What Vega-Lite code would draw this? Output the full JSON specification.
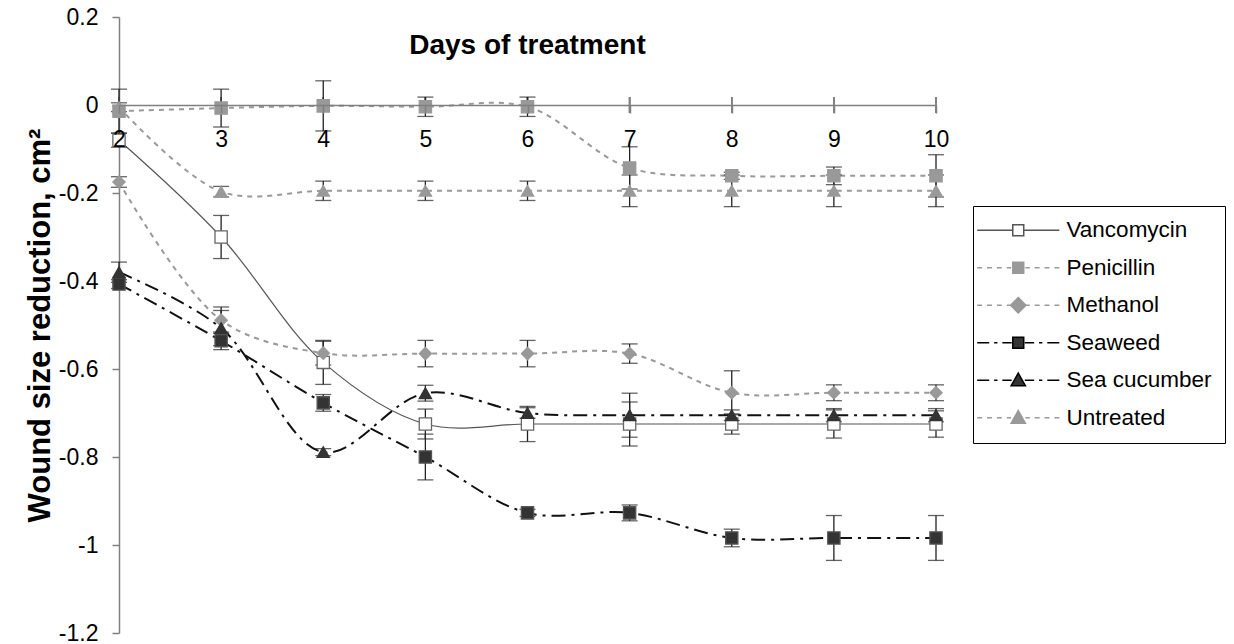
{
  "$schema": "https://vega.github.io/schema/vega-lite/v6.json",
  "width": 817,
  "height": 616,
  "autosize": "none",
  "padding": {"left": 119, "top": 17, "right": 298, "bottom": 11},
  "background": "white",
  "config": {"view": {"stroke": null}, "font": "Liberation Sans", "axis": {"grid": false}},
  "title": {"text": "Days of treatment", "font": "Liberation Sans", "fontSize": 28, "fontWeight": "bold", "color": "black", "frame": "group", "anchor": "middle", "offset": -36, "dy": 40, "baseline": "alphabetic"},
  "data": {"values": [
    {"series": "Vancomycin", "day": 2, "value": -0.08, "err": 0.016},
    {"series": "Vancomycin", "day": 3, "value": -0.30, "err": 0.049},
    {"series": "Vancomycin", "day": 4, "value": -0.585, "err": 0.05},
    {"series": "Vancomycin", "day": 5, "value": -0.725, "err": 0.034},
    {"series": "Vancomycin", "day": 6, "value": -0.725, "err": 0.04},
    {"series": "Vancomycin", "day": 7, "value": -0.725, "err": 0.05},
    {"series": "Vancomycin", "day": 8, "value": -0.725, "err": 0.023},
    {"series": "Vancomycin", "day": 9, "value": -0.725, "err": 0.032},
    {"series": "Vancomycin", "day": 10, "value": -0.725, "err": 0.03},
    {"series": "Penicillin", "day": 2, "value": -0.014, "err": 0.05},
    {"series": "Penicillin", "day": 3, "value": -0.007, "err": 0.043},
    {"series": "Penicillin", "day": 4, "value": -0.002, "err": 0.057},
    {"series": "Penicillin", "day": 5, "value": -0.004, "err": 0.022},
    {"series": "Penicillin", "day": 6, "value": -0.004, "err": 0.022},
    {"series": "Penicillin", "day": 7, "value": -0.143, "err": 0.048},
    {"series": "Penicillin", "day": 8, "value": -0.161, "err": 0.008},
    {"series": "Penicillin", "day": 9, "value": -0.161, "err": 0.02},
    {"series": "Penicillin", "day": 10, "value": -0.161, "err": 0.048},
    {"series": "Methanol", "day": 2, "value": -0.175, "err": 0.012},
    {"series": "Methanol", "day": 3, "value": -0.489, "err": 0.03},
    {"series": "Methanol", "day": 4, "value": -0.564, "err": 0.027},
    {"series": "Methanol", "day": 5, "value": -0.565, "err": 0.03},
    {"series": "Methanol", "day": 6, "value": -0.565, "err": 0.03},
    {"series": "Methanol", "day": 7, "value": -0.565, "err": 0.022},
    {"series": "Methanol", "day": 8, "value": -0.654, "err": 0.05},
    {"series": "Methanol", "day": 9, "value": -0.654, "err": 0.018},
    {"series": "Methanol", "day": 10, "value": -0.654, "err": 0.018},
    {"series": "Seaweed", "day": 2, "value": -0.407, "err": 0.01},
    {"series": "Seaweed", "day": 3, "value": -0.536, "err": 0.02},
    {"series": "Seaweed", "day": 4, "value": -0.677, "err": 0.019},
    {"series": "Seaweed", "day": 5, "value": -0.80, "err": 0.052},
    {"series": "Seaweed", "day": 6, "value": -0.927, "err": 0.008},
    {"series": "Seaweed", "day": 7, "value": -0.927, "err": 0.018},
    {"series": "Seaweed", "day": 8, "value": -0.984, "err": 0.02},
    {"series": "Seaweed", "day": 9, "value": -0.984, "err": 0.051},
    {"series": "Seaweed", "day": 10, "value": -0.984, "err": 0.051},
    {"series": "Sea cucumber", "day": 2, "value": -0.38, "err": 0.023},
    {"series": "Sea cucumber", "day": 3, "value": -0.507, "err": 0.04},
    {"series": "Sea cucumber", "day": 4, "value": -0.789, "err": 0.008},
    {"series": "Sea cucumber", "day": 5, "value": -0.655, "err": 0.018},
    {"series": "Sea cucumber", "day": 6, "value": -0.70, "err": 0.012},
    {"series": "Sea cucumber", "day": 7, "value": -0.705, "err": 0.05},
    {"series": "Sea cucumber", "day": 8, "value": -0.705, "err": 0.012},
    {"series": "Sea cucumber", "day": 9, "value": -0.705, "err": 0.015},
    {"series": "Sea cucumber", "day": 10, "value": -0.705, "err": 0.015},
    {"series": "Untreated", "day": 2, "value": -0.005, "err": 0.01},
    {"series": "Untreated", "day": 3, "value": -0.197, "err": 0.012},
    {"series": "Untreated", "day": 4, "value": -0.195, "err": 0.022},
    {"series": "Untreated", "day": 5, "value": -0.195, "err": 0.022},
    {"series": "Untreated", "day": 6, "value": -0.195, "err": 0.022},
    {"series": "Untreated", "day": 7, "value": -0.195, "err": 0.036},
    {"series": "Untreated", "day": 8, "value": -0.195, "err": 0.036},
    {"series": "Untreated", "day": 9, "value": -0.195, "err": 0.036},
    {"series": "Untreated", "day": 10, "value": -0.195, "err": 0.036}
  ]},
  "encoding": {
    "x": {"field": "day", "type": "quantitative", "scale": {"domain": [2, 10], "nice": false, "zero": false},
      "axis": {"orient": "bottom", "offset": -528, "zindex": 1, "values": [2, 3, 4, 5, 6, 7, 8, 9, 10], "title": null, "domainColor": "#808080", "domainWidth": 1.5, "tickColor": "#808080", "tickWidth": 1.5, "tickSize": 8, "labelFontSize": 23, "labelFont": "Liberation Sans", "labelColor": "black", "labelPadding": 15, "labelFlush": false, "labelOverlap": false}},
    "y": {"field": "value", "type": "quantitative", "scale": {"domain": [-1.2, 0.2], "nice": false, "zero": false},
      "axis": {"values": [-1.2, -1, -0.8, -0.6, -0.4, -0.2, 0, 0.2], "labelExpr": "toString(round(datum.value*10)/10)", "title": "Wound size reduction, cm²", "titleFont": "Liberation Sans", "titleFontSize": 31, "titleFontWeight": "bold", "titleColor": "black", "titlePadding": 2, "domainColor": "#808080", "domainWidth": 1.5, "tickColor": "#808080", "tickWidth": 1.5, "tickSize": 7, "labelFontSize": 23, "labelFont": "Liberation Sans", "labelColor": "black", "labelPadding": 14, "labelFlush": false, "labelOverlap": false}}
  },
  "layer": [
    {"mark": {"type": "tick", "orient": "vertical", "size": 16, "thickness": 1.5, "color": "#808080"},
     "encoding": {"y": {"datum": 0}}},
    {"transform": [{"filter": "datum.series === 'Vancomycin'"}],
     "mark": {"type": "line", "interpolate": "catmull-rom", "color": "#555555", "strokeWidth": 1.2}},
    {"transform": [{"filter": "indexof(['Penicillin','Methanol','Untreated'], datum.series) >= 0"}],
     "mark": {"type": "line", "interpolate": "catmull-rom", "color": "#999999", "strokeWidth": 2, "strokeDash": [5, 5]},
     "encoding": {"detail": {"field": "series"}}},
    {"transform": [{"filter": "indexof(['Seaweed','Sea cucumber'], datum.series) >= 0"}],
     "mark": {"type": "line", "interpolate": "catmull-rom", "color": "#111111", "strokeWidth": 2, "strokeDash": [14, 6, 3, 6]},
     "encoding": {"detail": {"field": "series"}}},
    {"mark": {"type": "errorbar", "ticks": {"size": 16, "color": "#222222", "thickness": 1.3}, "rule": {"color": "#222222", "strokeWidth": 1.3}},
     "encoding": {"yError": {"field": "err"}}},
    {"mark": {"type": "point", "filled": true, "size": 150, "strokeWidth": 1.3, "opacity": 1},
     "encoding": {
       "shape": {"field": "series", "type": "nominal", "legend": null,
         "scale": {"domain": ["Vancomycin", "Penicillin", "Methanol", "Seaweed", "Sea cucumber", "Untreated"], "range": ["square", "square", "diamond", "square", "triangle-up", "triangle-up"]}},
       "fill": {"field": "series", "type": "nominal", "legend": null,
         "scale": {"domain": ["Vancomycin", "Penicillin", "Methanol", "Seaweed", "Sea cucumber", "Untreated"], "range": ["#ffffff", "#999999", "#999999", "#333333", "#333333", "#999999"]}},
       "stroke": {"field": "series", "type": "nominal", "legend": null,
         "scale": {"domain": ["Vancomycin", "Penicillin", "Methanol", "Seaweed", "Sea cucumber", "Untreated"], "range": ["#666666", "#999999", "#999999", "#555555", "#333333", "#999999"]}}
     }},
    {"transform": [{"filter": "datum.day > 100"}],
     "mark": {"type": "point", "filled": true, "size": 120, "strokeWidth": 1.5, "opacity": 1},
     "encoding": {
       "shape": {"field": "series", "type": "nominal",
         "scale": {"domain": ["Vancomycin", "Penicillin", "Methanol", "Seaweed", "Sea cucumber", "Untreated"],
           "range": [
             "M-7.5,0H-1M1,0H7.5M-1,-1H1V1H-1Z",
             "M-7.5,0H-6.6M-5.7,0H-4.8M-3.9,0H-3M-2.1,0H-1.3M1.3,0H2.1M3,0H3.9M4.8,0H5.7M6.6,0H7.5M-1,-1H1V1H-1Z",
             "M-7.5,0H-6.6M-5.7,0H-4.8M-3.9,0H-3M-2.1,0H-1.5M1.5,0H2.1M3,0H3.9M4.8,0H5.7M6.6,0H7.5M0,-1.4L1.4,0L0,1.4L-1.4,0Z",
             "M-7.5,0H-5.3M-4.4,0H-3.8M-2.9,0H-1.2M1.2,0H2.9M3.8,0H4.4M5.3,0H7.5M-1,-1H1V1H-1Z",
             "M-7.5,0H-5.3M-4.4,0H-3.8M-2.9,0H-1.2M1.2,0H2.9M3.8,0H4.4M5.3,0H7.5M0,-1.3L1.3,1L-1.3,1Z",
             "M-7.5,0H-6.6M-5.7,0H-4.8M-3.9,0H-3M-2.1,0H-1.3M1.3,0H2.1M3,0H3.9M4.8,0H5.7M6.6,0H7.5M0,-1.3L1.3,1L-1.3,1Z"
           ]},
         "legend": {"title": null, "orient": "none", "legendX": 854, "legendY": 189, "direction": "vertical", "strokeColor": "#000000", "padding": 13, "rowPadding": 14.5, "symbolOffset": 21, "labelOffset": 37, "labelFont": "Liberation Sans", "labelFontSize": 22.5, "labelColor": "black", "symbolSize": 120, "symbolStrokeWidth": 1.5}},
       "fill": {"field": "series", "type": "nominal",
         "scale": {"domain": ["Vancomycin", "Penicillin", "Methanol", "Seaweed", "Sea cucumber", "Untreated"], "range": ["#ffffff", "#999999", "#999999", "#333333", "#333333", "#999999"]}},
       "stroke": {"field": "series", "type": "nominal",
         "scale": {"domain": ["Vancomycin", "Penicillin", "Methanol", "Seaweed", "Sea cucumber", "Untreated"], "range": ["#555555", "#999999", "#999999", "#000000", "#000000", "#999999"]}}
     }}
  ],
  "resolve": {"scale": {"shape": "independent", "fill": "independent", "stroke": "independent"}}
}
